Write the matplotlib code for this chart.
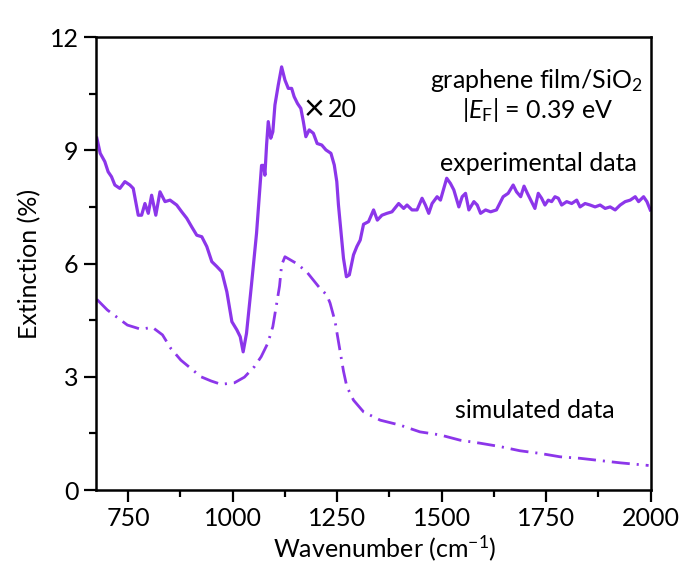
import matplotlib
matplotlib.use("Agg")
import matplotlib.pyplot as plt
from matplotlib.ticker import MultipleLocator

plt.rcParams['font.family'] = ['Lato', 'DejaVu Sans']
plt.rcParams['mathtext.fontset'] = 'custom'
plt.rcParams['mathtext.rm'] = 'Lato'
plt.rcParams['mathtext.it'] = 'Lato:italic'
plt.rcParams['lines.scale_dashes'] = False

exp_x = [675, 683, 694, 702, 710, 718, 730, 742, 754, 762, 774, 782, 790, 798, 806, 816, 826, 838,
         850, 866, 878, 890, 902, 914, 926, 938, 950, 962, 974, 986, 998, 1010, 1018, 1025, 1033,
         1045, 1057, 1065, 1069, 1074, 1077, 1081, 1085, 1091, 1096, 1101, 1109, 1117, 1125, 1133,
         1141, 1147, 1155, 1163, 1169, 1175, 1183, 1193, 1202, 1213, 1223, 1235, 1243, 1249, 1253,
         1259, 1265, 1272, 1279, 1289, 1297, 1305, 1313, 1325, 1337, 1346, 1357, 1369, 1381, 1397,
         1409, 1417, 1429, 1441, 1453, 1461, 1469, 1477, 1489, 1497, 1505, 1512, 1521, 1529, 1541,
         1549, 1557, 1565, 1577, 1585, 1593, 1605, 1617, 1631, 1647, 1659, 1671, 1679, 1689, 1697,
         1705, 1713, 1723, 1731, 1739, 1747, 1755, 1763, 1771, 1779, 1787, 1799, 1811, 1823, 1831,
         1843, 1855, 1867, 1879, 1891, 1903, 1915, 1927, 1939, 1951, 1963, 1971, 1983, 1991, 1999]
exp_y = [9.32, 8.92, 8.70, 8.43, 8.30, 8.08, 7.99, 8.17, 8.08, 7.99, 7.28, 7.28, 7.59, 7.33, 7.81,
         7.28, 7.90, 7.64, 7.68, 7.55, 7.37, 7.20, 6.97, 6.75, 6.71, 6.45, 6.05, 5.92, 5.78, 5.25,
         4.46, 4.24, 4.06, 3.66, 4.15, 5.45, 6.80, 8.00, 8.60, 8.60, 8.34, 9.14, 9.76, 9.32, 9.49,
         10.20, 10.73, 11.21, 10.86, 10.64, 10.64, 10.42, 10.24, 10.11, 9.76, 9.36, 9.54, 9.45, 9.18,
         9.14, 9.01, 8.92, 8.61, 8.17, 7.55, 6.84, 6.14, 5.65, 5.70, 6.23, 6.45, 6.62, 7.04, 7.11,
         7.42, 7.15, 7.28, 7.33, 7.37, 7.59, 7.46, 7.55, 7.42, 7.42, 7.73, 7.55, 7.33, 7.59, 7.77,
         7.68, 7.99, 8.26, 8.12, 7.95, 7.50, 7.77, 7.86, 7.42, 7.64, 7.55, 7.33, 7.42, 7.37, 7.42,
         7.77, 7.86, 8.08, 7.90, 7.77, 8.05, 7.86, 7.68, 7.46, 7.86, 7.73, 7.55, 7.68, 7.64, 7.77,
         7.73, 7.55, 7.64, 7.59, 7.68, 7.50, 7.59, 7.55, 7.50, 7.55, 7.46, 7.50, 7.42, 7.55, 7.64,
         7.68, 7.77, 7.64, 7.77, 7.64, 7.42]

sim_x = [675, 700, 724, 748, 780, 808, 832, 852, 876, 900, 924, 948, 972, 1004, 1028, 1052, 1068,
         1084, 1096, 1104, 1112, 1117, 1125, 1153, 1177, 1209, 1225, 1233, 1245, 1253, 1265, 1273,
         1289, 1313, 1353, 1400, 1448, 1496, 1544, 1592, 1640, 1687, 1735, 1783, 1831, 1879, 1927, 1995]
sim_y = [5.05, 4.77, 4.57, 4.37, 4.26, 4.31, 4.11, 3.75, 3.44, 3.22, 3.00, 2.89, 2.80, 2.84, 2.99,
         3.27, 3.53, 3.89, 4.33, 4.86, 5.40, 5.96, 6.18, 6.00, 5.78, 5.34, 5.17, 4.95, 4.46, 3.93,
         3.15, 2.74, 2.38, 2.07, 1.85, 1.72, 1.54, 1.46, 1.32, 1.24, 1.15, 1.04, 0.97, 0.88, 0.84,
         0.78, 0.72, 0.65]

x_major = [750, 1000, 1250, 1500, 1750, 2000]
y_major = [0, 3, 6, 9, 12]

color = '#8c36ea'
fs = 18

fig = plt.figure(figsize=(6.84, 5.79), dpi=100)
ax = fig.add_axes([0.1404, 0.1537, 0.9513 - 0.1404, 0.936 - 0.1537])

ax.plot(exp_x, exp_y, color=color, lw=2.3)
ax.plot(sim_x, sim_y, color=color, lw=2.0, linestyle=(0, (13, 5, 1.5, 5)))

ax.set_xlim(673, 2000)
ax.set_ylim(0, 12)
ax.set_xticks(x_major)
ax.set_yticks(y_major)
ax.xaxis.set_minor_locator(MultipleLocator(125))
ax.yaxis.set_minor_locator(MultipleLocator(1.5))
ax.tick_params(which='major', direction='out', length=8.5, width=1.6, labelsize=fs, pad=4)
ax.tick_params(which='minor', direction='out', length=5, width=1.6)
for s in ax.spines.values():
    s.set_linewidth(1.8)

ax.set_xlabel('Wavenumber (cm$^{-1}$)', fontsize=fs, labelpad=4)
ax.xaxis.set_label_coords(0.521, -0.095)
ax.set_ylabel('Extinction (%)', fontsize=fs, labelpad=6)

ax.text(0.985, 0.905, 'graphene film/SiO$_2$', transform=ax.transAxes, ha='right', va='center', fontsize=fs)
ax.text(0.797, 0.84, r'$|E_\mathrm{F}|$ = 0.39 eV', transform=ax.transAxes, ha='center', va='center', fontsize=fs)
ax.text(0.374, 0.84, '×', transform=ax.transAxes, ha='left', va='center', fontsize=26, color='black')
ax.text(0.418, 0.84, '20', transform=ax.transAxes, ha='left', va='center', fontsize=fs)
ax.text(0.975, 0.72, 'experimental data', transform=ax.transAxes, ha='right', va='center', fontsize=fs)
ax.text(0.935, 0.175, 'simulated data', transform=ax.transAxes, ha='right', va='center', fontsize=fs)

fig.savefig('out.png', dpi=100)
